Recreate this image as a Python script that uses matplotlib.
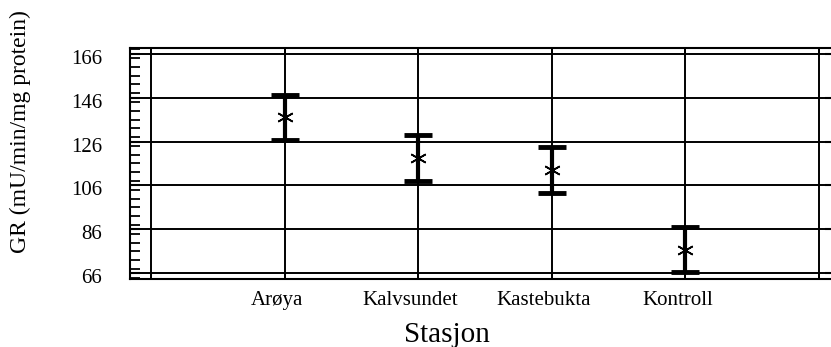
import numpy as np
import matplotlib
matplotlib.use("Agg")
import matplotlib.pyplot as plt
import matplotlib.transforms as mtransforms
from matplotlib.ticker import MultipleLocator, FixedLocator

# --- Dados ---
stasjoner = ['Arøya', 'Kalvsundet', 'Kastebukta', 'Kontroll']
gr_mean = [137.0, 118.5, 113.0, 76.8]
gr_err = [10.4, 10.3, 10.3, 10.2]
y_ticks = [66, 86, 106, 126, 146, 166]

plt.rcParams['font.family'] = ['Liberation Serif', 'DejaVu Serif']

fig = plt.figure(figsize=(8.31, 3.47), dpi=100)
# a borda direita fica fora da imagem, como no original
ax = fig.add_axes([0.1564, 0.196, 0.8484, 0.6657])

x = np.arange(1, len(stasjoner) + 1)
ax.errorbar(x, gr_mean, yerr=gr_err, fmt='none', ecolor='black',
            elinewidth=3, capsize=10, capthick=3.5, zorder=3)
ax.plot(x, gr_mean, linestyle='none', marker=(6, 2, 0), markersize=12,
        markeredgewidth=1.2, color='black', zorder=4)

# --- Eixos ---
ax.set_xlim(-0.157, 5.12)
ax.set_ylim(63.4, 168.6)

ax.xaxis.set_major_locator(FixedLocator(range(0, 6)))
ax.set_xticklabels([''] + stasjoner + [''])
ax.set_yticks(y_ticks)
ax.yaxis.set_minor_locator(MultipleLocator(4))

ax.grid(True, which='major', color='black', linewidth=1.4)
ax.set_axisbelow(True)
for s in ax.spines.values():
    s.set_linewidth(1.5)

ax.tick_params(axis='y', which='major', direction='in', left=True, right=True,
               length=7, width=1.5, labelsize=15, pad=20)
ax.tick_params(axis='y', which='minor', direction='in', left=True, right=False,
               length=7, width=1.3)
ax.tick_params(axis='x', which='both', direction='in', top=True, bottom=True,
               length=4, width=1.3, labelsize=15, pad=9)

# rotulos deslocados como no original
off_x = mtransforms.ScaledTranslation(-8 / 100, 0, fig.dpi_scale_trans)
for lab in ax.get_xticklabels():
    lab.set_transform(lab.get_transform() + off_x)
off_y = mtransforms.ScaledTranslation(0, -3 / 100, fig.dpi_scale_trans)
for lab in ax.get_yticklabels():
    lab.set_transform(lab.get_transform() + off_y)

ax.set_xlabel('Stasjon', fontsize=21, va='center')
ax.xaxis.set_label_coords(0.45, -0.242)
fig.text(0.024, 0.62, 'GR (mU/min/mg protein)', rotation=90, fontsize=17,
         ha='center', va='center')

plt.savefig('out.png', dpi=100)
